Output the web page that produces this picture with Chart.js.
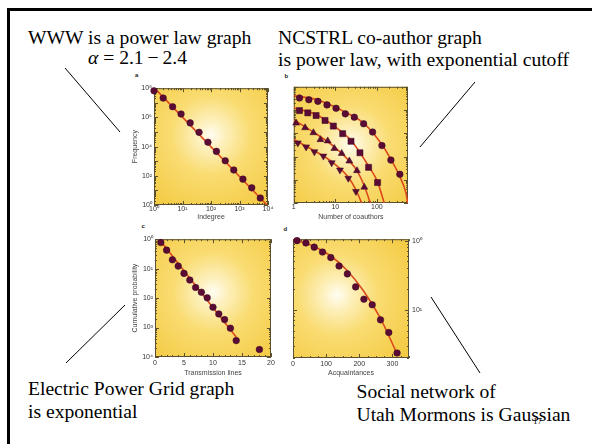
<!DOCTYPE html>
<html>
<head>
<meta charset="utf-8">
<script src="https://cdn.jsdelivr.net/npm/chart.js@4.4.0/dist/chart.umd.min.js"></script>
<style>
  html, body { margin: 0; padding: 0; background: #fff; }
  #slide { position: relative; width: 592px; height: 444px; overflow: hidden; font-family: "Liberation Serif", "Times New Roman", serif; }
  #frame { position: absolute; left: 7px; top: 8px; width: 620px; height: 460px; border-top: 3px solid #000; border-left: 3px solid #000; }
  .txt { position: absolute; font-size: 19.6px; line-height: 1; white-space: nowrap; color: #000; }
  .plbl { position: absolute; font: bold 6px "Liberation Sans", Arial, sans-serif; color: #222; }
  canvas { position: absolute; }
  svg { position: absolute; left: 0; top: 0; }
</style>
</head>
<body>
<div id="slide">
  <div id="frame"></div>

  <div class="txt" style="left:28px; top:28px;">WWW is a power law graph</div>
  <div class="txt" style="left:88px; top:47.6px;"><i>α</i> = 2.1&thinsp;−&thinsp;2.4</div>
  <div class="txt" style="left:278px; top:28px;">NCSTRL co-author graph</div>
  <div class="txt" style="left:278px; top:49.6px;">is power law, with exponential cutoff</div>
  <div class="txt" style="left:28px; top:378.6px;">Electric Power Grid graph</div>
  <div class="txt" style="left:28px; top:401.6px;">is exponential</div>
  <div class="txt" style="left:356.5px; top:381.6px;">Social network of</div>
  <div class="txt" style="left:356.5px; top:405px;">Utah Mormons is Gaussian</div>
  <div class="txt" style="left:533px; top:417px; font-size:9px;">17</div>

  <div class="plbl" style="left:135px; top:72px;">a</div>
  <div class="plbl" style="left:284.5px; top:73px;">b</div>
  <div class="plbl" style="left:141.5px; top:223px;">c</div>
  <div class="plbl" style="left:283.5px; top:226px;">d</div>

  <canvas id="chartA"></canvas>
  <canvas id="chartB"></canvas>
  <canvas id="chartC"></canvas>
  <canvas id="chartD"></canvas>

  <svg width="592" height="444">
    <g stroke="#000" stroke-width="1">
      <line x1="65" y1="68" x2="120" y2="132"/>
      <line x1="475" y1="82" x2="420" y2="147"/>
      <line x1="125" y1="305" x2="66" y2="363"/>
      <line x1="431" y1="297" x2="480" y2="373"/>
    </g>
  </svg>
</div>

<script>
// panel a: WWW indegree distribution
const wwwIndegree  = [1, 2.1, 4.5, 8.9, 18.6, 38, 78, 155, 316, 630, 1320, 2690, 5370];
const wwwFrequency = [6.6e7, 2.1e7, 5.4e6, 1.7e6, 4.2e5, 9.5e4, 2.0e4, 4.7e3, 1070, 250, 59, 15, 3];
const wwwFitX = [1, 10000];
const wwwFitY = [1.1e8, 0.85];
const wwwXTicks  = [1, 10, 100, 1000, 10000];
const wwwXLabels = ['10⁰', '10¹', '10²', '10³', '10⁴'];
const wwwYTicks  = [1, 100, 1e4, 1e6, 1e8];
const wwwYLabels = ['10⁰', '10²', '10⁴', '10⁶', '10⁸'];

// panel b: NCSTRL coauthors, four groups
const circX = [1.37, 2.3, 3.8, 6.3, 10.4, 17.4, 28.6, 47.9, 78.7, 132, 217, 356];
const circY = [0.329, 0.279, 0.237, 0.166, 0.119, 0.0684, 0.0493, 0.0257, 0.0113, 0.00296, 0.000703, 0.000172];
const circFitX = [1, 3.8, 17.4, 47.9, 132, 217, 356, 500, 550];
const circFitY = [0.413, 0.27, 0.0805, 0.0274, 0.00327, 0.00075, 0.000137, 2.67e-5, 1e-5];
const sqX = [1.37, 2.17, 3.44, 5.65, 8.95, 15, 23.8, 39.1, 63.1, 103.7];
const sqY = [0.0948, 0.0755, 0.0581, 0.0356, 0.0204, 0.00962, 0.00453, 0.00145, 0.000342, 7.59e-5];
const sqFitX = [1, 3.43, 8.9, 23.7, 63, 103, 150];
const sqFitY = [0.123, 0.0641, 0.0218, 0.005, 0.000389, 8.3e-5, 1e-5];
const triX = [1.14, 1.87, 2.96, 4.37, 6.55, 9.46, 14.2, 21.7, 33.1, 49.7];
const triY = [0.0274, 0.0173, 0.0106, 0.00533, 0.0047, 0.00221, 0.00135, 0.000637, 0.000247, 4.81e-5];
const triFitX = [1, 2.96, 9.46, 21.7, 33.1, 49.7, 69];
const triFitY = [0.038, 0.0113, 0.0026, 0.000637, 0.000247, 5.5e-5, 1e-5];
const invX = [1.25, 1.98, 3.13, 5.15, 8.17, 12.9, 20.5, 31.3];
const invY = [0.00385, 0.0026, 0.00159, 0.00104, 0.00054, 0.000263, 0.000116, 3.14e-5];
const invFitX = [1, 3.13, 8.17, 20.5, 31.3, 43];
const invFitY = [0.00537, 0.00175, 0.000597, 0.000129, 3.7e-5, 1e-5];
const coXTicks  = [1, 10, 100];
const coXLabels = ['1', '10', '100'];
const coYTicks  = [1e-5, 1e-4, 1e-3, 1e-2, 1e-1, 1];

// panel c: power grid
const gridLines = [1, 2, 3, 4, 5, 6, 7, 8, 9, 10, 11, 12, 13, 14, 18];
const gridProb  = [0.77, 0.425, 0.2, 0.122, 0.069, 0.041, 0.023, 0.0158, 0.0102, 0.0049, 0.0029, 0.00186, 0.00095, 0.00036, 0.00018];
const gridFitX = [0.8, 14];
const gridFitY = [0.95, 0.00048];
const gridXTicks  = [0, 5, 10, 15, 20];
const gridXLabels = ['0', '5', '10', '15', '20'];
const gridYTicks  = [1e-4, 1e-3, 1e-2, 1e-1, 1];
const gridYLabels = ['10⁴', '10³', '10²', '10¹', '10⁰'];

// panel d: Utah Mormons
const mormAcq  = [12, 39, 64, 89, 114, 139, 164, 189, 214, 239, 264, 289, 314];
const mormProb = [1.0, 0.927, 0.805, 0.684, 0.569, 0.429, 0.33, 0.214, 0.142, 0.118, 0.0714, 0.0468, 0.0236];
const mormFitX = [0, 62, 112, 162, 212, 262, 315];
const mormFitY = [1.04, 0.83, 0.61, 0.376, 0.19, 0.078, 0.0224];
const mormXTicks  = [0, 100, 200, 300];
const mormXLabels = ['0', '100', '200', '300'];
const mormYTicks  = [0.1, 1];
const mormYLabels = ['10¹', '10⁰'];

const MARK = '#5a0c35';
const FIT = '#dc4a1c';

Chart.defaults.font.family = '"Liberation Sans", Arial, sans-serif';
Chart.defaults.font.size = 7;
Chart.defaults.color = '#333';

function pts(xs, ys) {
  return xs.map((x, i) => ({ x: x, y: ys[i] }));
}

function tickList(scale, major, minor) {
  const out = [];
  if (scale.type === 'logarithmic') {
    const lo = Math.floor(Math.log10(scale.min)), hi = Math.ceil(Math.log10(scale.max));
    for (let e = lo; e <= hi; e++) {
      for (let m = 1; m < 10; m++) {
        const v = m * Math.pow(10, e);
        if (v >= scale.min * 0.999 && v <= scale.max * 1.001) out.push([v, m === 1]);
      }
    }
  } else {
    for (let v = scale.min; v <= scale.max + 1e-9; v += minor) {
      out.push([v, Math.abs(v / major - Math.round(v / major)) < 1e-6]);
    }
  }
  return out;
}

// yellow radial background, inside ticks on all four sides, frame
const panelBg = {
  id: 'panelBg',
  beforeDatasetsDraw(chart, args, opts) {
    const { ctx, chartArea: a } = chart;
    const cx = a.left + a.width * opts.cx, cy = a.top + a.height * opts.cy;
    const g = ctx.createRadialGradient(cx, cy, 0, cx, cy, Math.max(a.width, a.height) * 0.75);
    g.addColorStop(0, '#fffdf2');
    g.addColorStop(0.16, '#fdf0bd');
    g.addColorStop(0.45, '#f9dc72');
    g.addColorStop(1, '#f4ca42');
    ctx.save();
    ctx.fillStyle = g;
    ctx.fillRect(a.left, a.top, a.width, a.height);

    ctx.strokeStyle = '#5a5030';
    ctx.lineWidth = 1;
    ctx.beginPath();
    const xs = chart.scales.x, ys = chart.scales.y;
    tickList(xs, opts.xMajor, opts.xMinor).forEach(([v, big]) => {
      const p = Math.round(xs.getPixelForValue(v)) + 0.5;
      const len = big ? 4 : 2;
      ctx.moveTo(p, a.bottom); ctx.lineTo(p, a.bottom - len);
      ctx.moveTo(p, a.top); ctx.lineTo(p, a.top + len);
    });
    tickList(ys, opts.yMajor, opts.yMinor).forEach(([v, big]) => {
      const p = Math.round(ys.getPixelForValue(v)) + 0.5;
      const len = big ? 4 : 2;
      ctx.moveTo(a.left, p); ctx.lineTo(a.left + len, p);
      ctx.moveTo(a.right, p); ctx.lineTo(a.right - len, p);
    });
    ctx.stroke();
    ctx.strokeRect(a.left + 0.5, a.top + 0.5, a.width - 1, a.height - 1);
    ctx.restore();
  }
};

function axis(o) {
  return {
    type: o.log ? 'logarithmic' : 'linear',
    position: o.position,
    min: o.min,
    max: o.max,
    grid: { display: false, drawTicks: false },
    border: { display: false },
    title: { display: !!o.title, text: o.title || '', padding: 0, font: { size: 7 }, color: '#444' },
    ticks: {
      display: !!o.labels,
      autoSkip: false,
      maxRotation: 0,
      padding: o.pad,
      font: { size: 7 },
      color: '#333',
      callback: (v, i) => (o.labels ? o.labels[i] : '')
    },
    afterBuildTicks: s => { s.ticks = o.ticks.map(v => ({ value: v })); },
    afterFit: s => { if (s.isHorizontal()) s.height = o.size; else s.width = o.size; }
  };
}

function markers(xs, ys, style, r, rot) {
  return {
    data: pts(xs, ys),
    showLine: false,
    pointStyle: style,
    pointRadius: r,
    rotation: rot || 0,
    pointBackgroundColor: MARK,
    pointBorderColor: '#3a0520',
    pointBorderWidth: 0.5,
    clip: false,
    order: 0
  };
}

function fitLine(xs, ys) {
  return {
    data: pts(xs, ys),
    showLine: true,
    pointRadius: 0,
    borderColor: FIT,
    borderWidth: 1.6,
    cubicInterpolationMode: 'monotone',
    order: 1
  };
}

// area = plot rectangle on the page
function makePanel(id, area, yRight, yW, xH, pad, x, y, datasets, bg) {
  const c = document.getElementById(id);
  const w = pad.left + yW + (area.r - area.l) + pad.right;
  const h = pad.top + (area.b - area.t) + xH;
  c.width = w;
  c.height = h;
  c.style.left = (yRight ? area.l - pad.left : area.l - yW - pad.left) + 'px';
  c.style.top = (area.t - pad.top) + 'px';
  new Chart(c, {
    type: 'scatter',
    data: { datasets: datasets },
    options: {
      responsive: false,
      animation: false,
      devicePixelRatio: 1,
      layout: { padding: { left: pad.left, right: pad.right, top: pad.top, bottom: 0 } },
      plugins: { legend: { display: false }, tooltip: { enabled: false }, panelBg: bg },
      scales: { x: x, y: y }
    },
    plugins: [panelBg]
  });
}

makePanel('chartA', { l: 154, t: 87, r: 268, b: 205 }, false, 23, 16, { left: 0, right: 8, top: 5 },
  axis({ log: true, position: 'bottom', min: 1, max: 10000, ticks: wwwXTicks, labels: wwwXLabels, title: 'Indegree', pad: 0, size: 16 }),
  axis({ log: true, position: 'left', min: 1, max: 1e8, ticks: wwwYTicks, labels: wwwYLabels, title: 'Frequency', pad: 2, size: 23 }),
  [markers(wwwIndegree, wwwFrequency, 'circle', 3.3), fitLine(wwwFitX, wwwFitY)],
  { cx: 0.5, cy: 0.4 });

makePanel('chartB', { l: 293, t: 86, r: 408, b: 203 }, false, 4, 18, { left: 0, right: 8, top: 4 },
  axis({ log: true, position: 'bottom', min: 1, max: 560, ticks: coXTicks, labels: coXLabels, title: 'Number of coauthors', pad: 0, size: 18 }),
  axis({ log: true, position: 'left', min: 1e-5, max: 1, ticks: coYTicks, labels: null, pad: 0, size: 4 }),
  [
    markers(circX, circY, 'circle', 3.3),
    markers(sqX, sqY, 'rect', 4.3),
    markers(triX, triY, 'triangle', 4),
    markers(invX, invY, 'triangle', 4, 180),
    fitLine(circFitX, circFitY),
    fitLine(sqFitX, sqFitY),
    fitLine(triFitX, triFitY),
    fitLine(invFitX, invFitY)
  ],
  { cx: 0.5, cy: 0.5 });

makePanel('chartC', { l: 155, t: 238, r: 271, b: 357 }, false, 24, 20, { left: 0, right: 6, top: 5 },
  axis({ log: false, position: 'bottom', min: 0, max: 20, ticks: gridXTicks, labels: gridXLabels, title: 'Transmission lines', pad: 2, size: 20 }),
  axis({ log: true, position: 'left', min: 1e-4, max: 1, ticks: gridYTicks, labels: gridYLabels, title: 'Cumulative probability', pad: 2, size: 24 }),
  [markers(gridLines, gridProb, 'circle', 3.3), fitLine(gridFitX, gridFitY)],
  { cx: 0.5, cy: 0.45, xMajor: 5, xMinor: 1 });

makePanel('chartD', { l: 293, t: 237, r: 409, b: 358 }, true, 18, 19, { left: 5, right: 0, top: 5 },
  axis({ log: false, position: 'bottom', min: 0, max: 350, ticks: mormXTicks, labels: mormXLabels, title: 'Acquaintances', pad: 2, size: 19 }),
  axis({ log: true, position: 'right', min: 0.02, max: 1.05, ticks: mormYTicks, labels: mormYLabels, pad: 3, size: 18 }),
  [markers(mormAcq, mormProb, 'circle', 3.3), fitLine(mormFitX, mormFitY)],
  { cx: 0.38, cy: 0.47, xMajor: 100, xMinor: 25 });
</script>
</body>
</html>
